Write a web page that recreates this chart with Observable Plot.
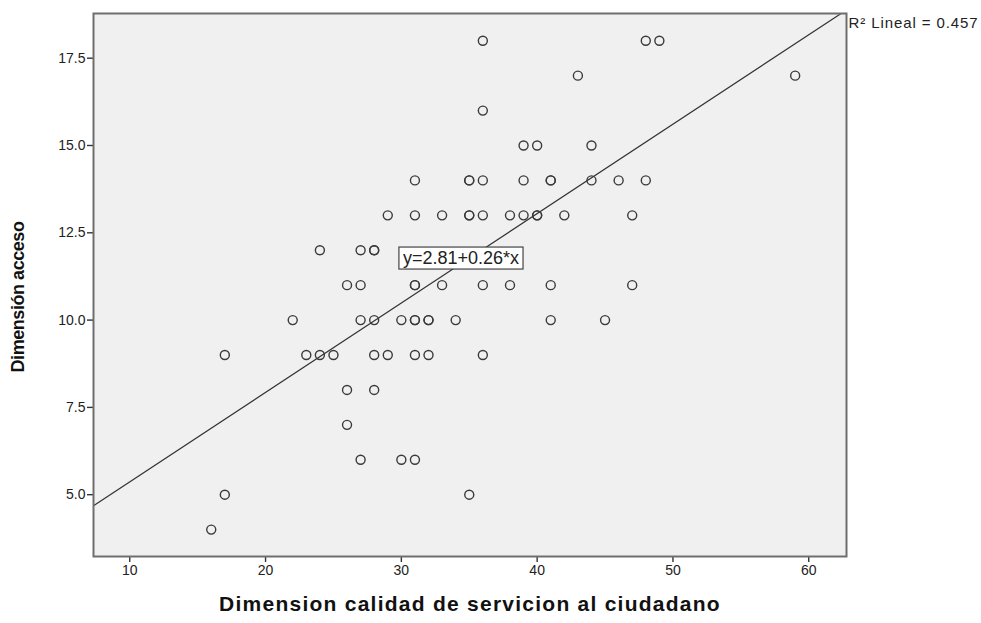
<!DOCTYPE html>
<html>
<head>
<meta charset="utf-8">
<script src="https://cdn.jsdelivr.net/npm/d3@7"></script>
<script src="https://cdn.jsdelivr.net/npm/@observablehq/plot@0.6"></script>
<style>
  html, body { margin: 0; padding: 0; background: #fff; }
  svg { display: block; }
</style>
</head>
<body>
<script>
// Dimension calidad de servicion al ciudadano (x) and Dimensión acceso (y), one pair per respondent
const calidad = [
  36, 48, 49,
  43, 59,
  36,
  39, 40, 44,
  31, 35, 35, 36, 39, 41, 41, 44, 46, 48,
  29, 31, 33, 35, 35, 36, 38, 39, 40, 40, 42, 47,
  24, 27, 28, 28,
  26, 27, 31, 31, 33, 36, 38, 41, 47,
  22, 27, 28, 30, 31, 31, 32, 32, 34, 41, 45,
  17, 23, 24, 25, 28, 29, 31, 32, 36,
  26, 28,
  26,
  27, 30, 31,
  17, 35,
  16
];
const acceso = [
  18, 18, 18,
  17, 17,
  16,
  15, 15, 15,
  14, 14, 14, 14, 14, 14, 14, 14, 14, 14,
  13, 13, 13, 13, 13, 13, 13, 13, 13, 13, 13, 13,
  12, 12, 12, 12,
  11, 11, 11, 11, 11, 11, 11, 11, 11,
  10, 10, 10, 10, 10, 10, 10, 10, 10, 10, 10,
  9, 9, 9, 9, 9, 9, 9, 9, 9,
  8, 8,
  7,
  6, 6, 6,
  5, 5,
  4
];
const xTicks = [10, 20, 30, 40, 50, 60];
const yTicks = [5, 7.5, 10, 12.5, 15, 17.5];
const xDomain = [7.33, 62.78];
const yDomain = [3.23, 18.78];
const fitIntercept = 2.81;
const fitSlope = 0.256;
const equationText = "y=2.81+0.26*x";
const equationPos = {x: 34.39, y: 11.77};
const r2Text = "R\u00B2 Lineal = 0.457";
const xTitle = "Dimension calidad de servicion al ciudadano";
const yTitle = "Dimensión acceso";

const points = calidad.map((c, i) => ({x: c, y: acceso[i]}));
const fitLine = xDomain.map(x => ({x, y: fitIntercept + fitSlope * x}));

const chart = Plot.plot({
  width: 981,
  height: 623,
  marginLeft: 93,
  marginRight: 135,
  marginTop: 13,
  marginBottom: 67,
  style: {fontFamily: "'Liberation Sans', Arial, sans-serif", fontSize: "14px", color: "#222", background: "#fff"},
  x: {domain: xDomain},
  y: {domain: yDomain},
  marks: [
    Plot.frame({fill: "#f0f0f0"}),
    Plot.axisX({ticks: xTicks, tickSize: 6, tickPadding: 3, label: null, fontSize: 14, stroke: "#333", strokeWidth: 1.4}),
    Plot.axisY({ticks: yTicks, tickSize: 6, tickPadding: 2, tickFormat: d3.format(".1f"), label: null, fontSize: 14, stroke: "#333", strokeWidth: 1.4}),
    Plot.line(fitLine, {x: "x", y: "y", stroke: "#333", strokeWidth: 1.2, clip: true}),
    Plot.dot(points, {x: "x", y: "y", r: 4.5, stroke: "#3a3a3a", strokeWidth: 1.4, fill: "none"}),
    Plot.frame({stroke: "#6e6e6e", strokeWidth: 2}),
    Plot.text([equationText], {x: () => equationPos.x, y: () => equationPos.y, text: d => d, fontSize: 18, fill: "#222", textAnchor: "middle", lineAnchor: "middle"}),
    Plot.text([r2Text], {frameAnchor: "top-right", text: d => d, textAnchor: "start", lineAnchor: "middle", dx: 2, dy: 10, fontSize: 15, fill: "#222"}),
    Plot.text([xTitle], {frameAnchor: "bottom", text: d => d, textAnchor: "middle", lineAnchor: "middle", dy: 48, fontSize: 21, fontWeight: "bold", fill: "#111"}),
    Plot.text([yTitle], {frameAnchor: "left", text: d => d, rotate: -90, textAnchor: "middle", lineAnchor: "middle", dx: -75, dy: 12, fontSize: 18, fontWeight: "bold", fill: "#111"})
  ]
});
document.body.append(chart);

const spacing = {[xTitle]: "1.25px", [yTitle]: "-0.45px", [r2Text]: "0.9px"};
for (const t of chart.querySelectorAll("text")) {
  const s = t.textContent;
  if (spacing[s]) t.style.letterSpacing = spacing[s];
  if (s === equationText) {
    // white box behind the equation label
    const b = t.getBBox();
    const rect = document.createElementNS("http://www.w3.org/2000/svg", "rect");
    rect.setAttribute("x", b.x - 4);
    rect.setAttribute("y", b.y - 1);
    rect.setAttribute("width", b.width + 8);
    rect.setAttribute("height", b.height + 2);
    rect.setAttribute("fill", "#fff");
    rect.setAttribute("stroke", "#444");
    rect.setAttribute("stroke-width", 1.2);
    const tr = t.getAttribute("transform");
    if (tr) rect.setAttribute("transform", tr);
    t.parentNode.insertBefore(rect, t);
  }
}
</script>
</body>
</html>
